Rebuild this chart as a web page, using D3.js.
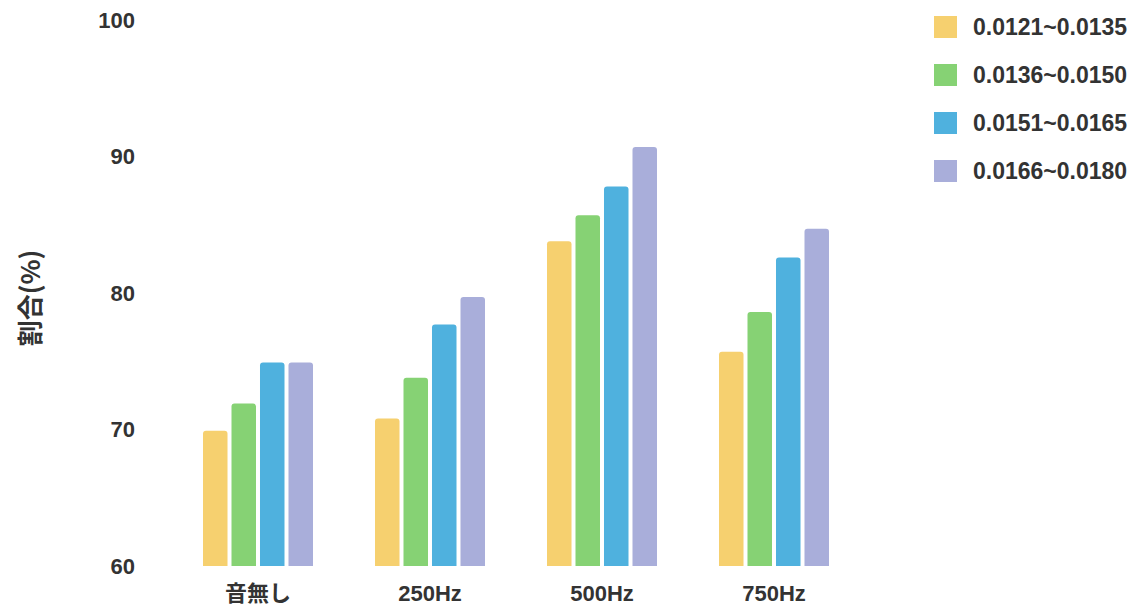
<!DOCTYPE html>
<html>
<head>
<meta charset="utf-8">
<script src="https://cdn.jsdelivr.net/npm/d3@7"></script>
<style>
  body { margin: 0; background: #fff; }
  text { font-family: "Liberation Sans", Arial, "Noto Sans CJK JP", sans-serif; fill: #333; }
</style>
</head>
<body>
<div id="chart"></div>
<script>
const width = 1137;
const height = 607;

const categories = ['音無し', '250Hz', '500Hz', '750Hz'];
const seriesNames = ['0.0121~0.0135', '0.0136~0.0150', '0.0151~0.0165', '0.0166~0.0180'];
const seriesColors = ['#f6d06f', '#86d274', '#4fb1de', '#a9aeda'];
// one array per series, values in category order
const s1 = [69.9, 70.8, 83.8, 75.7];
const s2 = [71.9, 73.8, 85.7, 78.6];
const s3 = [74.9, 77.7, 87.8, 82.6];
const s4 = [74.9, 79.7, 90.7, 84.7];
const yTicks = [60, 70, 80, 90, 100];

const series = [s1, s2, s3, s4];

const svg = d3.select('#chart')
  .append('svg')
  .attr('width', width)
  .attr('height', height);

const y = d3.scaleLinear().domain([60, 100]).range([566, 20]);
const x0 = d3.scaleBand().domain(categories).range([172, 860]);
const x1 = d3.scaleBand().domain(d3.range(4)).range([0, 110]).paddingInner(0.14);

// y tick labels, no axis line
svg.append('g')
  .selectAll('text')
  .data(yTicks)
  .enter()
  .append('text')
  .attr('x', 135)
  .attr('y', d => y(d))
  .attr('dy', '0.35em')
  .attr('text-anchor', 'end')
  .style('font-size', '22px')
  .style('font-weight', 'bold')
  .text(d => d);

// axis title
svg.append('text')
  .attr('transform', 'translate(40,298) rotate(-90)')
  .attr('text-anchor', 'middle')
  .style('font-size', '26px')
  .style('font-weight', 'bold')
  .style('font-family', '"Noto Sans CJK JP", sans-serif')
  .text('割合(%)');

// bars
const groups = svg.append('g')
  .selectAll('g')
  .data(categories)
  .enter()
  .append('g')
  .attr('transform', d => 'translate(' + (x0(d) + (x0.bandwidth() - 110) / 2) + ',0)');

groups.selectAll('path')
  .data((c, ci) => series.map((s, si) => ({ si: si, v: s[ci] })))
  .enter()
  .append('path')
  .attr('fill', d => seriesColors[d.si])
  .attr('d', d => {
    const bx = x1(d.si), bw = x1.bandwidth();
    const top = y(d.v), bottom = y(60), r = 3;
    return 'M' + bx + ',' + bottom +
      'V' + (top + r) +
      'Q' + bx + ',' + top + ' ' + (bx + r) + ',' + top +
      'H' + (bx + bw - r) +
      'Q' + (bx + bw) + ',' + top + ' ' + (bx + bw) + ',' + (top + r) +
      'V' + bottom + 'Z';
  });

// category labels
svg.append('g')
  .selectAll('text')
  .data(categories)
  .enter()
  .append('text')
  .attr('x', d => x0(d) + x0.bandwidth() / 2)
  .attr('y', 601)
  .attr('text-anchor', 'middle')
  .style('font-size', '22px')
  .style('font-weight', 'bold')
  .style('font-family', d => /Hz/.test(d) ? '"Liberation Sans", Arial, sans-serif' : '"Noto Sans CJK JP", sans-serif')
  .text(d => d);

// legend
const legend = svg.append('g')
  .selectAll('g')
  .data(seriesNames)
  .enter()
  .append('g')
  .attr('transform', (d, i) => 'translate(934,' + (16 + i * 48) + ')');

legend.append('rect')
  .attr('width', 23)
  .attr('height', 22)
  .attr('fill', (d, i) => seriesColors[i]);

legend.append('text')
  .attr('x', 39)
  .attr('y', 11)
  .attr('dy', '0.35em')
  .style('font-size', '23px')
  .style('font-weight', 'bold')
  .text(d => d);
</script>
</body>
</html>
